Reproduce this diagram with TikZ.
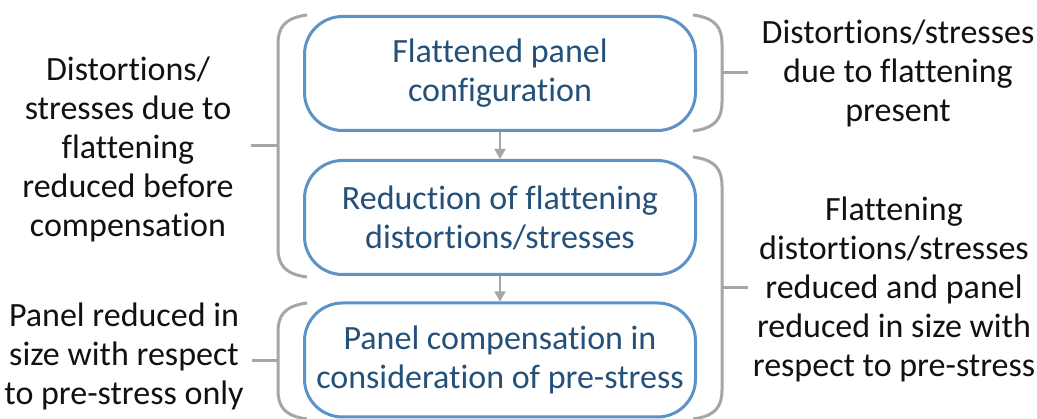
\documentclass[tikz,border=0pt]{standalone}
\usepackage{fontspec}
\setmainfont[Ligatures=NoCommon]{Carlito}
\usetikzlibrary{arrows.meta}
\definecolor{boxblue}{HTML}{5B93C7}
\definecolor{txtblue}{HTML}{24507A}
\definecolor{brgray}{HTML}{A6A6A6}
\definecolor{txtdark}{HTML}{111111}
\tikzset{
  stepbox/.style={draw=boxblue, line width=3pt, rounded corners=38pt, fill=white,
    minimum width=391pt, minimum height=114pt, inner sep=0pt, align=center,
    text=txtblue, font=\fontsize{34}{39}\selectfont},
  sidetext/.style={align=center, text=txtdark, inner sep=0pt,
    font=\fontsize{34}{39}\selectfont},
  bracket/.style={draw=brgray, line width=3pt},
  flowarrow/.style={draw=brgray, line width=1.8pt, -{Triangle[width=11pt,length=10pt]}}
}
\begin{document}
\begin{tikzpicture}[x=1pt,y=-1pt]
\useasboundingbox (0,0) rectangle (1037,419);

% boxes
\node[stepbox] (b1) at (500,73.5) {Flattened panel\\configuration};
\node[stepbox] (b2) at (500,217.5) {Reduction of flattening\\distortions/stresses};
\node[stepbox] (b3) at (500,360) {Panel compensation in\\consideration of pre-stress};

\draw[flowarrow] (b1) -- (b2);
\draw[flowarrow] (b2) -- (b3);

% side texts
\node[sidetext] (l1) at (128,149) {Distortions/\\stresses due to\\flattening\\reduced before\\compensation};
\node[sidetext] (l2) at (124,356) {Panel reduced in\\size with respect\\to pre-stress only};
\node[sidetext] (r1) at (898,73) {Distortions/stresses\\due to flattening\\present};
\node[sidetext] (r2) at (894,289) {Flattening\\distortions/stresses\\reduced and panel\\reduced in size with\\respect to pre-stress};

% left bracket 1
\draw[bracket] (307,15) .. controls (284,18) and (278,28) .. (278,44) -- (278,248)
  .. controls (278,264) and (284,274) .. (307,277);
\coordinate (l1t) at (251,146);
\draw[bracket] (278,146) -- (l1t);

% left bracket 2
\draw[bracket] (307,303) .. controls (284,306) and (278,316) .. (278,332) -- (278,390)
  .. controls (278,406) and (284,416) .. (307,419);
\coordinate (l2t) at (252,361);
\draw[bracket] (278,361) -- (l2t);

% right bracket 1
\draw[bracket] (693,15) .. controls (716,18) and (722,28) .. (722,44) -- (722,102)
  .. controls (722,118) and (716,128) .. (693,131);
\coordinate (r1t) at (748,73);
\draw[bracket] (722,73) -- (r1t);

% right bracket 2
\draw[bracket] (693,157) .. controls (716,160) and (722,170) .. (722,186) -- (722,390)
  .. controls (722,406) and (716,416) .. (693,419);
\coordinate (r2t) at (748,288);
\draw[bracket] (722,288) -- (r2t);
\end{tikzpicture}
\end{document}
